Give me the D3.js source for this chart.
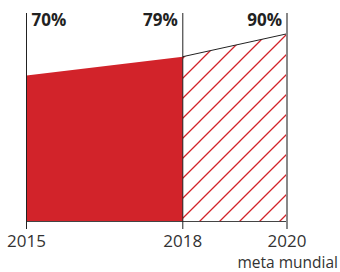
<!DOCTYPE html>
<html>
<head>
<meta charset="utf-8">
<script src="https://cdn.jsdelivr.net/npm/d3@7"></script>
<style>
  body { margin: 0; background: #fff; }
  svg text { font-family: "Open Sans", "Noto Sans", sans-serif; }
</style>
</head>
<body>
<svg id="chart" width="340" height="272"></svg>
<script>
var years = [2015, 2018, 2020];
var values = [70, 79, 90];
var valueLabels = ["70%", "79%", "90%"];
var yearLabels = ["2015", "2018", "2020"];
var note = "meta mundial";

var svg = d3.select("#chart");
var red = "#d2232a";

var x = d3.scaleLinear().domain([2015, 2020]).range([26.5, 287]);
var y = d3.scaleLinear().domain([0, 100]).range([221, 13]);

// hatch pattern
var defs = svg.append("defs");
defs.append("pattern")
  .attr("id", "hatch")
  .attr("patternUnits", "userSpaceOnUse")
  .attr("width", 20)
  .attr("height", 20)
  .attr("x", 0).attr("y", 1)
  .append("path")
  .attr("d", "M-5,5 L5,-5 M0,20 L20,0 M15,25 L25,15")
  .attr("stroke", red)
  .attr("stroke-width", 1.3);

var area = d3.area()
  .x(function(d) { return x(d.year); })
  .y0(y(0))
  .y1(function(d) { return y(d.value); });

var data = years.map(function(yr, i) { return { year: yr, value: values[i] }; });

// actual (2015-2018)
svg.append("path")
  .datum(data.slice(0, 2))
  .attr("d", area)
  .attr("fill", red);

// goal (2018-2020)
svg.append("path")
  .datum(data.slice(1))
  .attr("d", area)
  .attr("fill", "url(#hatch)");

svg.append("path")
  .datum(data.slice(1))
  .attr("d", d3.line().x(function(d) { return x(d.year); }).y(function(d) { return y(d.value); }))
  .attr("fill", "none")
  .attr("stroke", "#222")
  .attr("stroke-width", 1);

// baseline
svg.append("line")
  .attr("x1", x(2015)).attr("x2", x(2020))
  .attr("y1", y(0) + 0.5).attr("y2", y(0) + 0.5)
  .attr("stroke", "#444")
  .attr("stroke-width", 1);

// vertical guides
svg.selectAll(".guide")
  .data(years)
  .enter()
  .append("line")
  .attr("class", "guide")
  .attr("x1", function(d) { return x(d); })
  .attr("x2", function(d) { return x(d); })
  .attr("y1", y(100))
  .attr("y2", y(0) + 8)
  .attr("stroke", function(d, i) { return i == 2 ? "#888" : "#222"; })
  .attr("stroke-width", function(d, i) { return i == 2 ? 2 : 1; });

// value labels
svg.selectAll(".val")
  .data(data)
  .enter()
  .append("text")
  .attr("class", "val")
  .attr("x", function(d, i) { return i == 0 ? x(d.year) + 5 : x(d.year) - 5; })
  .attr("y", 26)
  .attr("text-anchor", function(d, i) { return i == 0 ? "start" : "end"; })
  .attr("font-size", "17px")
  .attr("font-weight", "bold")
  .attr("fill", "#222")
  .text(function(d, i) { return valueLabels[i]; });

// year labels
svg.selectAll(".yr")
  .data(years)
  .enter()
  .append("text")
  .attr("class", "yr")
  .attr("x", function(d) { return x(d); })
  .attr("y", 247)
  .attr("text-anchor", "middle")
  .attr("font-size", "17px")
  .attr("fill", "#333")
  .text(function(d, i) { return yearLabels[i]; });

svg.append("text")
  .attr("x", 338)
  .attr("y", 268)
  .attr("text-anchor", "end")
  .attr("font-size", "15.5px")
  .attr("fill", "#333")
  .text(note);
</script>
</body>
</html>
